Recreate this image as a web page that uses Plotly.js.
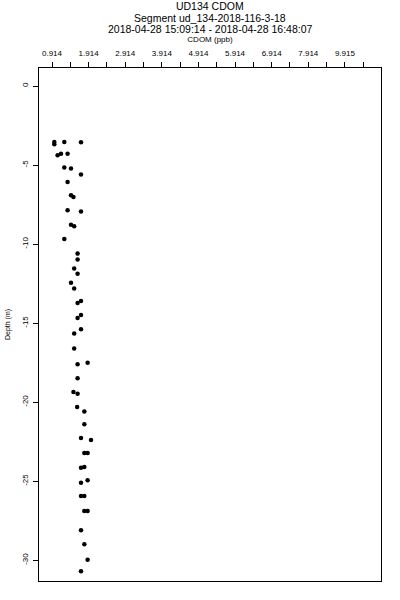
<!DOCTYPE html>
<html>
<head>
<meta charset="utf-8">
<script src="https://cdn.plot.ly/plotly-3.0.1.min.js"></script>
<style>html,body{margin:0;padding:0;background:#fff}#chart{width:400px;height:600px}</style>
</head>
<body>
<div id="chart"></div>
<script>
// CDOM (ppb) readings
const cdom = [0.977, 0.977, 1.250, 1.706, 1.067, 1.160, 1.340, 1.250, 1.433, 1.706,
  1.340, 1.433, 1.500, 1.340, 1.706, 1.433, 1.520, 1.250, 1.613, 1.613,
  1.520, 1.613, 1.433, 1.520, 1.613, 1.706, 1.613, 1.706, 1.706, 1.520,
  1.520, 1.613, 1.887, 1.613, 1.500, 1.613, 1.600, 1.797, 1.797, 1.706,
  1.980, 1.797, 1.887, 1.706, 1.797, 1.706, 1.887, 1.706, 1.797, 1.797,
  1.887, 1.706, 1.797, 1.887, 1.706];
// Depth (m)
const depth = [-3.54, -3.69, -3.54, -3.56, -4.38, -4.28, -4.28, -5.16, -5.22, -5.59,
  -6.07, -6.91, -7.02, -7.86, -7.93, -8.77, -8.87, -9.68, -10.60, -10.98,
  -11.55, -11.87, -12.44, -12.80, -13.73, -13.60, -14.67, -14.48, -15.39, -15.66,
  -16.61, -17.60, -17.50, -18.49, -19.35, -19.46, -20.30, -20.59, -21.40, -22.26,
  -22.39, -23.21, -23.21, -24.14, -24.10, -25.09, -24.94, -25.93, -25.93, -26.88,
  -26.88, -28.10, -28.99, -29.96, -30.70];

const xTickVals = [0.914, 1.414, 1.914, 2.414, 2.914, 3.414, 3.914, 4.414, 4.914,
  5.414, 5.914, 6.414, 6.914, 7.414, 7.914, 8.414, 8.914, 9.414];
const xTickText = ["0.914", "", "1.914", "", "2.914", "", "3.914", "", "4.914",
  "", "5.914", "", "6.914", "", "7.914", "", "9.915", ""];
const yTickVals = [0, -5, -10, -15, -20, -25, -30];
const yTickText = ["0", "-5", "-10", "-15", "-20", "-25", "-30"];

const titleLines = ["UD134 CDOM", "Segment ud_134-2018-116-3-18",
  "2018-04-28 15:09:14 - 2018-04-28 16:48:07"];

const FONT = "Liberation Sans, Arial, sans-serif";

const trace = {
  x: cdom, y: depth, type: 'scatter', mode: 'markers',
  marker: {color: '#000', size: 4.5, symbol: 'circle'},
  hoverinfo: 'skip'
};

const H = 600, T = 68, B = 19;
const ph = H - T - B;
function py(pix) { return (H - B - pix) / ph; }

const layout = {
  width: 400, height: 600,
  margin: {l: 39, r: 19, t: T, b: B, pad: 0},
  paper_bgcolor: '#fff', plot_bgcolor: '#fff',
  showlegend: false,
  font: {family: FONT, color: '#000', size: 8},
  title: {text: titleLines[0], font: {family: FONT, size: 10.5, color: '#000'},
    x: 0.5245, xanchor: 'center', y: 1 - 6.5 / H, yanchor: 'middle', yref: 'container'},
  annotations: [
    {text: titleLines[1], xref: 'paper', yref: 'paper', x: 0.5, y: py(17.5),
      xanchor: 'center', yanchor: 'middle', showarrow: false,
      font: {family: FONT, size: 10.5, color: '#000'}},
    {text: titleLines[2], xref: 'paper', yref: 'paper', x: 0.5, y: py(28.5),
      xanchor: 'center', yanchor: 'middle', showarrow: false,
      font: {family: FONT, size: 10.5, color: '#000'}}
  ],
  xaxis: {
    side: 'top', range: [0.559, 9.90], autorange: false,
    tickmode: 'array', tickvals: xTickVals, ticktext: xTickText,
    ticks: 'outside', ticklen: 5, tickwidth: 1, tickcolor: '#000',
    ticklabelstandoff: 3,
    showline: true, mirror: true, linecolor: '#000', linewidth: 1,
    showgrid: false, zeroline: false,
    tickfont: {family: FONT, size: 8, color: '#000'},
    title: {text: 'CDOM (ppb)', font: {family: FONT, size: 8, color: '#000'}, standoff: 4}
  },
  yaxis: {
    range: [-31.31, 1.14], autorange: false,
    tickmode: 'array', tickvals: yTickVals, ticktext: yTickText,
    ticks: 'outside', ticklen: 5, tickwidth: 1, tickcolor: '#000',
    tickangle: -90, ticklabelstandoff: 2,
    showline: true, mirror: true, linecolor: '#000', linewidth: 1,
    showgrid: false, zeroline: false,
    tickfont: {family: FONT, size: 8, color: '#000'},
    title: {text: 'Depth (m)', font: {family: FONT, size: 7, color: '#000'}, standoff: 9}
  }
};

Plotly.newPlot('chart', [trace], layout, {displayModeBar: false, staticPlot: true});
</script>
</body>
</html>
